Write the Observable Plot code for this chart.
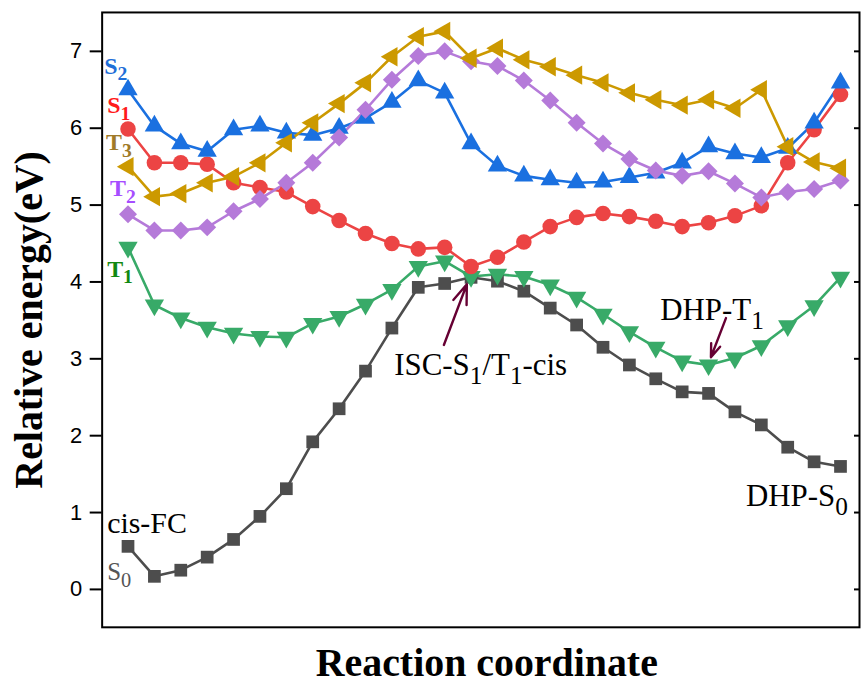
<!DOCTYPE html>
<html><head><meta charset="utf-8">
<script src="https://cdn.jsdelivr.net/npm/d3@7"></script>
<script src="https://cdn.jsdelivr.net/npm/@observablehq/plot@0.6"></script>
<style>html,body{margin:0;padding:0;overflow:hidden;background:#fff}</style>
</head><body><div id="chart"></div>
<script>
// Reaction coordinate steps
const step = [0,1,2,3,4,5,6,7,8,9,10,11,12,13,14,15,16,17,18,19,20,21,22,23,24,25,26,27];

// Relative energies (eV) per state
const S0 = [0.56,0.17,0.25,0.42,0.65,0.95,1.31,1.92,2.35,2.84,3.40,3.93,3.98,4.06,4.01,3.88,3.66,3.44,3.15,2.92,2.74,2.57,2.55,2.31,2.14,1.85,1.66,1.60];
const T1 = [4.45,3.70,3.53,3.41,3.33,3.29,3.28,3.46,3.55,3.71,3.90,4.20,4.27,4.07,4.10,4.07,3.96,3.80,3.58,3.35,3.15,2.97,2.92,3.01,3.17,3.43,3.69,4.06];
const S1 = [5.99,5.55,5.55,5.53,5.29,5.23,5.17,4.98,4.80,4.63,4.50,4.43,4.45,4.20,4.32,4.52,4.72,4.84,4.89,4.85,4.79,4.72,4.77,4.86,4.99,5.55,5.98,6.44];
const S2 = [6.50,6.03,5.80,5.70,5.98,6.03,5.94,5.91,6.00,6.13,6.34,6.62,6.46,5.80,5.51,5.38,5.33,5.29,5.30,5.36,5.42,5.55,5.76,5.67,5.62,5.74,6.07,6.59];
const T2 = [4.88,4.67,4.67,4.71,4.92,5.08,5.29,5.55,5.88,6.24,6.63,6.94,7.00,6.87,6.81,6.62,6.36,6.07,5.80,5.60,5.45,5.38,5.44,5.28,5.10,5.17,5.21,5.32];
const T3 = [5.50,5.11,5.15,5.29,5.37,5.55,5.81,6.07,6.32,6.59,6.93,7.19,7.26,6.91,7.04,6.89,6.80,6.69,6.59,6.46,6.37,6.30,6.37,6.26,6.50,5.76,5.56,5.48];

const seriesNames = ["S0","T1","S1","S2","T2","T3"];
const seriesValues = [S0, T1, S1, S2, T2, T3];
const seriesColors = ["#4d4d4d","#38aa68","#ec4444","#1a70e0","#b57ad9","#cc9900"];
const seriesSymbols = ["square","triangle","circle","triangle","square","triangle"];
const seriesRotate = [0,180,0,0,45,-90];
const seriesR = [7.2,7.2,7.8,7.2,7.2,7.2];

// y ticks
const yTicks = [0,1,2,3,4,5,6,7];

// Annotations (text with _x as subscript)
const annoText = ["S_2","S_1","T_3","T_2","T_1","cis-FC","S_0","ISC-S_1/T_1-cis","DHP-T_1","DHP-S_0"];
const annoX = [-0.90,-0.79,-0.83,-0.68,-0.79,-0.79,-0.79,10.09,20.17,23.42];
const annoY = [6.81,6.30,5.81,5.22,4.17,0.86,0.23,2.92,3.63,1.21];
const annoColor = ["#1f6fd8","#ff1a1a","#a07a28","#a64dff","#118811","#000000","#555555","#000000","#000000","#000000"];
const annoSize = [24,24,24,24,24,30,25,31,31,31];
const annoWeight = ["bold","bold","bold","bold","bold","normal","normal","normal","normal","normal"];

// Arrows
const arrowX1 = [11.97,22.66];
const arrowY1 = [3.18,3.53];
const arrowX2 = [12.84,22.09];
const arrowY2 = [3.97,3.02];

const data = seriesNames.flatMap((name,k) => seriesValues[k].map((v,i) => ({step: step[i], energy: v, series: name})));
const annos = annoText.map((t,i) => ({text:t, x:annoX[i], y:annoY[i], color:annoColor[i], size:annoSize[i], weight:annoWeight[i]}));
const arrows = arrowX1.map((d,i) => ({x1:arrowX1[i], y1:arrowY1[i], x2:arrowX2[i], y2:arrowY2[i]}));

const marks = [];
seriesNames.forEach((name,k) => {
  const sub = data.filter(d => d.series === name);
  marks.push(Plot.line(sub, {x:"step", y:"energy", stroke: seriesColors[k], strokeWidth: 2.6}));
});
seriesNames.forEach((name,k) => {
  const sub = data.filter(d => d.series === name);
  marks.push(Plot.dot(sub, {x:"step", y:"energy", symbol: seriesSymbols[k], r: seriesR[k], fill: seriesColors[k], stroke: "none", rotate: seriesRotate[k]}));
});

annos.forEach(a => {
  marks.push(Plot.text([a], {x:"x", y:"y", text:"text", textAnchor:"start", lineAnchor:"middle",
    fill:a.color, fontSize:a.size, fontWeight:a.weight, fontFamily:"Liberation Serif"}));
});

marks.push(Plot.arrow(arrows, {x1:"x1", y1:"y1", x2:"x2", y2:"y2", stroke:"#660033", strokeWidth:2.4, headLength:13, headAngle:40}));

marks.push(Plot.frame({stroke:"black", strokeWidth:2}));
marks.push(Plot.axisY(yTicks, {anchor:"left", tickSize:12, tickPadding:8, fontSize:22, fontFamily:"Liberation Sans", strokeWidth:2, label:null, tickFormat: d => String(d)}));
marks.push(Plot.axisY(yTicks, {anchor:"right", tickSize:-6, strokeWidth:2, label:null, tickFormat: () => ""}));
marks.push(Plot.axisX([], {label:null}));
marks.push(Plot.text(["Reaction coordinate"], {frameAnchor:"bottom", lineAnchor:"middle", textAnchor:"middle", dy:36, dx:6, fontSize:40, fontWeight:"bold", fontFamily:"Liberation Serif", fill:"black"}));
marks.push(Plot.text(["Relative energy(eV)"], {frameAnchor:"left", textAnchor:"middle", lineAnchor:"middle", dx:-73, rotate:-90, fontSize:40, fontWeight:"bold", fontFamily:"Liberation Serif", fill:"black"}));

const chart = Plot.plot({
  width: 864, height: 686,
  marginLeft: 102, marginRight: 2, marginTop: 12, marginBottom: 57,
  style: {background:"white", overflow:"visible"},
  x: {domain:[-0.98, 27.72], axis:null},
  y: {domain:[-0.493, 7.506], axis:null},
  marks
});
document.getElementById("chart").appendChild(chart);

// convert "_x" markers into subscripts
chart.querySelectorAll("text").forEach(t => {
  const s = t.textContent;
  if (!s.includes("_")) return;
  const fs = parseFloat(t.closest("[font-size]")?.getAttribute("font-size") || t.getAttribute("font-size") || 24);
  const shift = fs * 0.28;
  const parts = s.split(/_(\w)/);
  t.textContent = "";
  let lowered = false;
  parts.forEach((p, i) => {
    if (p === "") return;
    const ts = document.createElementNS("http://www.w3.org/2000/svg","tspan");
    ts.textContent = p;
    if (i % 2 === 1) {
      ts.setAttribute("font-size", (fs*0.82).toFixed(1));
      if (!lowered) { ts.setAttribute("dy", shift.toFixed(1)); lowered = true; }
    } else if (lowered) {
      ts.setAttribute("dy", (-shift).toFixed(1)); lowered = false;
    }
    t.appendChild(ts);
  });
});
</script></body></html>
